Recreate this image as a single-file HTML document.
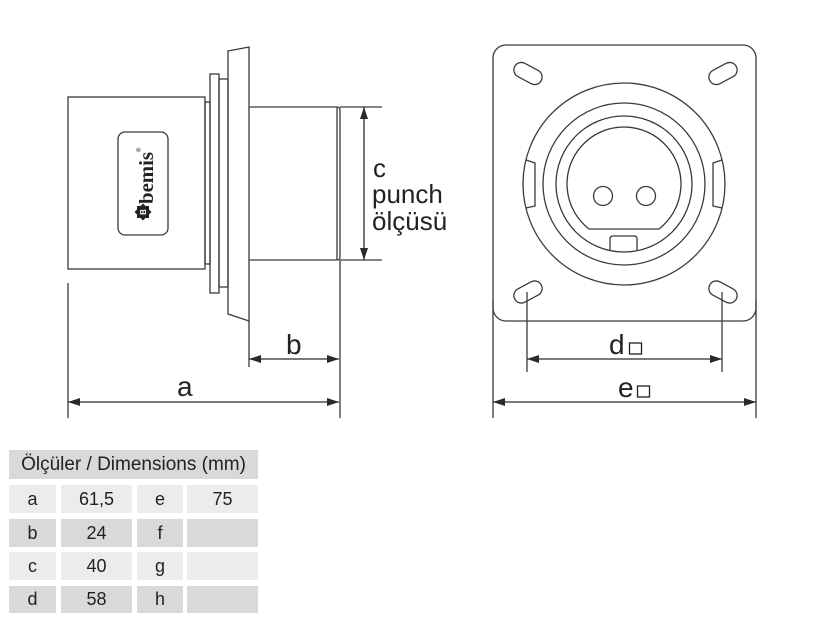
<!DOCTYPE html>
<html>
<head>
<meta charset="utf-8">
<style>
  html,body{margin:0;padding:0;background:#fff;}
  body{width:825px;height:625px;position:relative;overflow:hidden;font-family:"Liberation Sans",sans-serif;}
  svg{position:absolute;left:0;top:0;}
  .c{position:absolute;display:flex;align-items:center;justify-content:center;color:#222;font-size:18px;}
  .l{background:#ececec;}
  .d{background:#d9d9d9;}
</style>
</head>
<body>
<svg width="825" height="625" viewBox="0 0 825 625" xmlns="http://www.w3.org/2000/svg">
  <defs>
    <marker id="ah" viewBox="0 0 12 8" refX="12" refY="4" markerWidth="12" markerHeight="8" markerUnits="userSpaceOnUse" orient="auto-start-reverse">
      <path d="M0,0 L12,4 L0,8 Z" fill="#2a2a2a"/>
    </marker>
  </defs>
  <g fill="none" stroke="#3a3a3a" stroke-width="1.3">
    <!-- LEFT SIDE VIEW -->
    <rect x="68" y="97" width="137" height="172"/>
    <rect x="205" y="102" width="5" height="162"/>
    <rect x="210" y="74" width="9" height="219"/>
    <rect x="219" y="79" width="9" height="208"/>
    <path d="M228,51 L249,47 L249,321 L228,314 Z"/>
    <line x1="249" y1="321" x2="249" y2="367"/>
    <line x1="249" y1="107" x2="337" y2="107"/>
    <line x1="249" y1="260" x2="337" y2="260"/>
    <line x1="337" y1="107" x2="337" y2="260"/>
    <path d="M337,107 Q340,107 340,110 L340,257 Q340,260 337,260"/>
    <line x1="340" y1="107" x2="382" y2="107"/>
    <line x1="340" y1="260" x2="382" y2="260"/>
    <line x1="340" y1="260" x2="340" y2="418"/>
    <line x1="68" y1="283" x2="68" y2="418"/>
    <rect x="118" y="132" width="50" height="103" rx="7"/>
    <!-- RIGHT FRONT VIEW -->
    <rect x="493" y="45" width="263" height="276" rx="13"/>
    <line x1="493" y1="300" x2="493" y2="418"/>
    <line x1="756" y1="300" x2="756" y2="418"/>
    <rect x="513" y="66" width="30" height="15" rx="7.5" transform="rotate(28 528 73.5)"/>
    <rect x="708" y="66" width="30" height="15" rx="7.5" transform="rotate(-28 723 73.5)"/>
    <rect x="513" y="284.5" width="30" height="15" rx="7.5" transform="rotate(-28 528 292)"/>
    <rect x="708" y="284.5" width="30" height="15" rx="7.5" transform="rotate(28 723 292)"/>
    <line x1="527" y1="292" x2="527" y2="372"/>
    <line x1="722" y1="292" x2="722" y2="372"/>
    <circle cx="624" cy="184" r="101"/>
    <circle cx="624" cy="184" r="81"/>
    <circle cx="624" cy="184" r="68"/>
    <path d="M589,229 A57,57 0 1 1 659,229 Z"/>
    <circle cx="603" cy="196" r="9.5"/>
    <circle cx="646" cy="196" r="9.5"/>
    <path d="M610,250 L610,239 Q610,236 613,236 L634,236 Q637,236 637,239 L637,250"/>
    <path d="M526,160 L535,163 L535,206 L526,208"/>
    <path d="M722,160 L713,163 L713,206 L722,208"/>
  </g>
  <!-- dimension arrows -->
  <g stroke="#2a2a2a" stroke-width="1.3" fill="none">
    <line x1="364" y1="107" x2="364" y2="260" marker-start="url(#ah)" marker-end="url(#ah)"/>
    <line x1="249" y1="359" x2="339" y2="359" marker-start="url(#ah)" marker-end="url(#ah)"/>
    <line x1="68" y1="402" x2="339" y2="402" marker-start="url(#ah)" marker-end="url(#ah)"/>
    <line x1="527" y1="359" x2="722" y2="359" marker-start="url(#ah)" marker-end="url(#ah)"/>
    <line x1="493" y1="402" x2="756" y2="402" marker-start="url(#ah)" marker-end="url(#ah)"/>
  </g>
  <!-- labels -->
  <g font-family="Liberation Sans, sans-serif" fill="#222">
    <text x="373" y="177" font-size="26">c</text>
    <text x="372" y="203" font-size="26">punch</text>
    <text x="372" y="230" font-size="26">ölçüsü</text>
    <text x="286" y="354" font-size="28">b</text>
    <text x="177" y="396" font-size="28">a</text>
    <text x="609" y="354" font-size="28">d</text>
    <text x="618" y="397" font-size="28">e</text>
  </g>
  <rect x="629.5" y="343" width="12" height="11" fill="none" stroke="#222" stroke-width="1.3"/>
  <rect x="637.5" y="386" width="12" height="11" fill="none" stroke="#222" stroke-width="1.3"/>
  <!-- bemis logo -->
  <text transform="translate(153,204) rotate(-90)" font-family="Liberation Serif, serif" font-weight="bold" font-size="20" fill="#222" textLength="52" lengthAdjust="spacingAndGlyphs">bemis</text>
  <text transform="translate(141,152) rotate(-90)" font-family="Liberation Sans, sans-serif" font-size="6" fill="#222">®</text>
  <g transform="translate(143,212)">
    <rect x="-6" y="-6" width="12" height="12" fill="#222"/>
    <rect x="-6" y="-6" width="12" height="12" fill="#222" transform="rotate(45)"/>
    <text transform="rotate(-90)" x="0" y="3" text-anchor="middle" font-family="Liberation Sans, sans-serif" font-weight="bold" font-size="8" fill="#fff">B</text>
  </g>
</svg>

<!-- Table -->
<div class="c d" style="left:9px;top:450px;width:249px;height:29px;font-size:19px;">Ölçüler / Dimensions (mm)</div>

<div class="c l" style="left:9px;top:485px;width:47px;height:28px;">a</div>
<div class="c l" style="left:61px;top:485px;width:71px;height:28px;">61,5</div>
<div class="c l" style="left:137px;top:485px;width:46px;height:28px;">e</div>
<div class="c l" style="left:187px;top:485px;width:71px;height:28px;">75</div>

<div class="c d" style="left:9px;top:519px;width:47px;height:28px;">b</div>
<div class="c d" style="left:61px;top:519px;width:71px;height:28px;">24</div>
<div class="c d" style="left:137px;top:519px;width:46px;height:28px;">f</div>
<div class="c d" style="left:187px;top:519px;width:71px;height:28px;"></div>

<div class="c l" style="left:9px;top:552px;width:47px;height:28px;">c</div>
<div class="c l" style="left:61px;top:552px;width:71px;height:28px;">40</div>
<div class="c l" style="left:137px;top:552px;width:46px;height:28px;">g</div>
<div class="c l" style="left:187px;top:552px;width:71px;height:28px;"></div>

<div class="c d" style="left:9px;top:586px;width:47px;height:27px;">d</div>
<div class="c d" style="left:61px;top:586px;width:71px;height:27px;">58</div>
<div class="c d" style="left:137px;top:586px;width:46px;height:27px;">h</div>
<div class="c d" style="left:187px;top:586px;width:71px;height:27px;"></div>
</body>
</html>
